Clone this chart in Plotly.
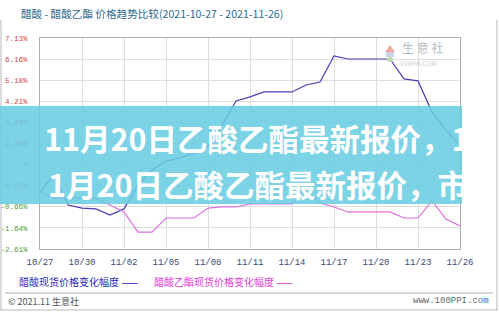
import plotly.graph_objects as go

# ---------------- data ----------------
dates = ["2021-10-27", "2021-10-28", "2021-10-29", "2021-10-30", "2021-10-31",
         "2021-11-01", "2021-11-02", "2021-11-03", "2021-11-04", "2021-11-05",
         "2021-11-06", "2021-11-07", "2021-11-08", "2021-11-09", "2021-11-10",
         "2021-11-11", "2021-11-12", "2021-11-13", "2021-11-14", "2021-11-15",
         "2021-11-16", "2021-11-17", "2021-11-18", "2021-11-19", "2021-11-20",
         "2021-11-21", "2021-11-22", "2021-11-23", "2021-11-24", "2021-11-25",
         "2021-11-26"]
acetic = [0.02, 0.81, -0.58, -0.72, -0.76, -1.04, -0.76, 0.34, 1.04, 1.45,
          1.59, 1.82, 2.14, 3.11, 4.22, 4.41, 4.64, 4.64, 4.64, 4.96,
          5.10, 6.30, 6.16, 6.16, 6.16, 6.16, 5.24, 5.15, 3.71, 2.88, 2.19]
ethyl_acetate = [0.02, -0.26, -0.26, -0.26, -0.26, -0.58, -0.90, -1.83, -1.83, -1.18,
                 -1.18, -1.18, -0.72, -0.67, -0.67, -0.53, -0.53, -0.53, -0.53, 0.11,
                 -0.49, -0.67, -0.90, -0.90, -0.90, -0.90, -1.18, -1.18, -0.39, -1.23,
                 -1.55]
x_tick_dates = ["2021-10-27", "2021-10-30", "2021-11-02", "2021-11-05", "2021-11-08",
                "2021-11-11", "2021-11-14", "2021-11-17", "2021-11-20", "2021-11-23",
                "2021-11-26"]
x_tick_labels = ["10/27", "10/30", "11/02", "11/05", "11/08", "11/11", "11/14",
                 "11/17", "11/20", "11/23", "11/26"]
y_tick_vals = [7.13, 6.16, 5.18, 4.21, 3.23, 2.26, 1.28, 0.31, -0.66, -1.64, -2.61]
y_tick_labels = ["7.13%", "6.16%", "5.18%", "4.21%", "3.23%", "2.26%", "0",
                 "0.31%", "-0.66%", "-1.64%", "-2.61%"]

title_text = "醋酸 - 醋酸乙酯 价格趋势比较(2021-10-27 - 2021-11-26)"
legend_names = ["醋酸现货价格变化幅度", "醋酸乙酯现货价格变化幅度"]
overlay_lines = ["11月20日乙酸乙酯最新报价，1", "1月20日乙酸乙酯最新报价，市"]

# ---------------- layout helpers ----------------
W, H = 499, 312
PL, PR, PT, PB = 40, 460, 38, 249


def px(x):
    return (x - PL) / (PR - PL)


def py(y):
    return (PB - y) / (PB - PT)


BLUE = "#4a3db4"
PINK = "#dc6ee0"

fig = go.Figure()
fig.add_trace(go.Scatter(x=dates, y=acetic, mode="lines",
                         line=dict(color=BLUE, width=1.2), name=legend_names[0]))
fig.add_trace(go.Scatter(x=dates, y=ethyl_acetate, mode="lines",
                         line=dict(color=PINK, width=1.2), name=legend_names[1]))


def ycolor(v, lab):
    if lab == "0":
        return "#888888"
    return "#d04848" if v > 0 else "#4aa030"


ytext = [f'<span style="color:{ycolor(v, l)}">{l}</span>' for v, l in zip(y_tick_vals, y_tick_labels)]

fig.update_layout(
    width=W, height=H,
    margin=dict(l=PL, r=W - PR, t=PT, b=H - PB, autoexpand=False),
    paper_bgcolor="white", plot_bgcolor="white",
    showlegend=False,
    xaxis=dict(type="date", range=["2021-10-27", "2021-11-26"],
               tickvals=x_tick_dates, ticktext=x_tick_labels, automargin=False,
               showgrid=True, gridcolor="#dedede", gridwidth=1,
               showline=True, linecolor="#b0b0b0", mirror=True,
               ticks="", tickfont=dict(family="Liberation Mono", size=9, color="#3b4a72"),
               ticklabelstandoff=4, zeroline=False),
    yaxis=dict(range=[-2.61, 7.13], tickvals=y_tick_vals, ticktext=ytext, automargin=False,
               showgrid=True, gridcolor="#dedede", gridwidth=1,
               showline=True, linecolor="#b0b0b0", mirror=True,
               ticks="", tickfont=dict(family="Liberation Mono", size=7.5),
               ticklabelstandoff=10, zeroline=False),
)

shapes = []
# outer frame lines
shapes.append(dict(type="line", xref="paper", yref="paper", x0=px(1), x1=px(1), y0=py(20), y1=py(311),
                   line=dict(color="#b8b8b8", width=1)))
shapes.append(dict(type="line", xref="paper", yref="paper", x0=px(497), x1=px(497), y0=py(20), y1=py(311),
                   line=dict(color="#b8b8b8", width=1)))
shapes.append(dict(type="line", xref="paper", yref="paper", x0=px(1), x1=px(497), y0=py(310), y1=py(310),
                   line=dict(color="#b8b8b8", width=1)))
shapes.append(dict(type="line", xref="paper", yref="paper", x0=px(5), x1=px(493), y0=py(293), y1=py(293),
                   line=dict(color="#b0b0b0", width=1)))
# watermark icon
shapes.append(dict(type="path", xref="paper", yref="paper",
                   path=f"M {px(385)} {py(52)} L {px(390)} {py(45)} L {px(395)} {py(52)} Z",
                   fillcolor="#f0a8a0", line=dict(width=0)))
shapes.append(dict(type="rect", xref="paper", yref="paper", x0=px(386), x1=px(394), y0=py(57), y1=py(52),
                   fillcolor="#c8d4e0", line=dict(width=0)))
shapes.append(dict(type="circle", xref="paper", yref="paper", x0=px(387), x1=px(393), y0=py(62), y1=py(57),
                   fillcolor="#b8dcb0", line=dict(width=0)))
# cyan overlay banner
shapes.append(dict(type="rect", xref="paper", yref="paper", x0=px(0), x1=px(462), y0=py(204), y1=py(106),
                   fillcolor="rgba(102,204,226,0.86)", line=dict(width=0), layer="above"))
fig.update_layout(shapes=shapes)

ann = []
ann.append(dict(text=title_text, x=px(19), y=py(13), xref="paper", yref="paper",
                xanchor="left", yanchor="middle", showarrow=False,
                font=dict(family="Noto Sans CJK SC", size=10.6, color="#2e6a8c")))
# legend as text
ann.append(dict(text=legend_names[0] + " ——", x=px(17), y=py(281), xref="paper", yref="paper",
                xanchor="left", yanchor="middle", showarrow=False,
                font=dict(family="Noto Sans CJK SC", size=10, color="#2b2bb8")))
ann.append(dict(text=legend_names[1] + " ——", x=px(152), y=py(281), xref="paper", yref="paper",
                xanchor="left", yanchor="middle", showarrow=False,
                font=dict(family="Noto Sans CJK SC", size=10, color="#e040d8")))
# footer
ann.append(dict(text="© 2021.11 生意社", x=px(6), y=py(301), xref="paper", yref="paper",
                xanchor="left", yanchor="middle", showarrow=False,
                font=dict(family="Noto Sans CJK SC", size=9, color="#555555")))
ann.append(dict(text="www.100PPI.com", x=px(491), y=py(301), xref="paper", yref="paper",
                xanchor="right", yanchor="middle", showarrow=False,
                font=dict(family="Liberation Mono", size=9, color="#666666")))
# watermark text
ann.append(dict(text="生 意 社", x=px(400), y=py(47), xref="paper", yref="paper",
                xanchor="left", yanchor="middle", showarrow=False,
                font=dict(family="Noto Sans CJK SC", size=12, color="#b4bcc6")))
ann.append(dict(text="100PPI.COM", x=px(398), y=py(63), xref="paper", yref="paper",
                xanchor="left", yanchor="middle", showarrow=False,
                font=dict(family="DejaVu Sans", size=6, color="#c8ccd0")))
# overlay headline
ann.append(dict(text="<b>" + overlay_lines[0] + "</b>", x=px(42), y=py(138), xref="paper", yref="paper",
                xanchor="left", yanchor="middle", showarrow=False,
                font=dict(family="Noto Sans CJK SC", size=30.5, color="white")))
ann.append(dict(text="<b>" + overlay_lines[1] + "</b>", x=px(46), y=py(184), xref="paper", yref="paper",
                xanchor="left", yanchor="middle", showarrow=False,
                font=dict(family="Noto Sans CJK SC", size=30.5, color="white")))
fig.update_layout(annotations=ann)

fig.write_html("out.html")
